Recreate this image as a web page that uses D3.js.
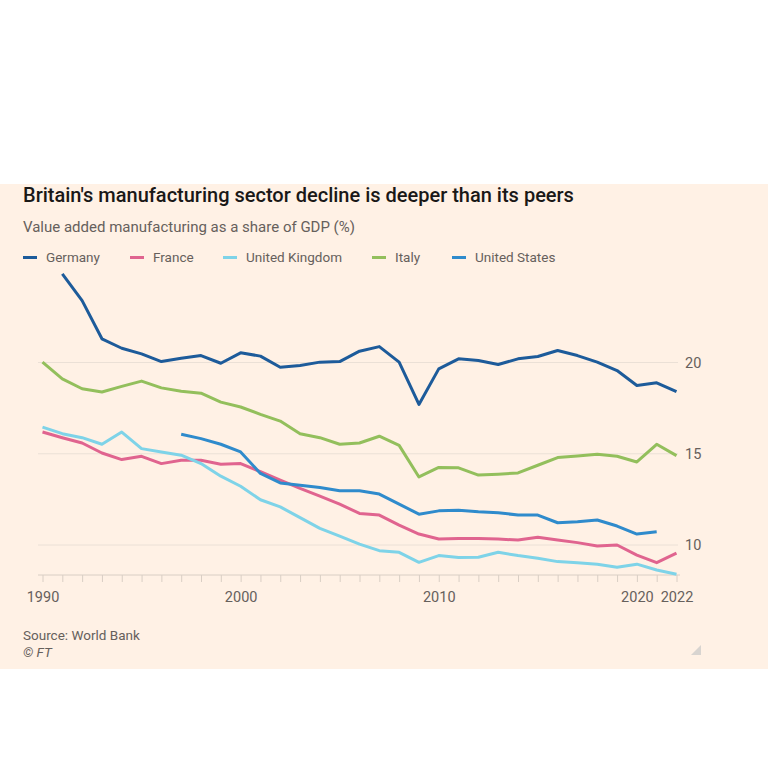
<!DOCTYPE html>
<html>
<head>
<meta charset="utf-8">
<script src="https://cdn.jsdelivr.net/npm/d3@7"></script>
<style>
  html, body { margin: 0; padding: 0; background: #ffffff; }
  svg { display: block; }
  text { font-family: Roboto, "Noto Sans", sans-serif; }
</style>
</head>
<body>
<svg id="chart" width="768" height="768"></svg>
<script>
const years = d3.range(1990, 2023);

const germany = [null, 24.86, 23.39, 21.3, 20.78, 20.47, 20.05, 20.23, 20.38, 19.96, 20.53,
  20.35, 19.74, 19.84, 20.02, 20.05, 20.62, 20.87, 20.02, 17.7, 19.65,
  20.2, 20.11, 19.89, 20.2, 20.33, 20.66, 20.38, 20.02, 19.56, 18.74,
  18.89, 18.4];
const france = [16.19, 15.88, 15.59, 15.04, 14.68, 14.86, 14.46, 14.64, 14.64, 14.43, 14.46,
  14.02, 13.55, 13.1, 12.68, 12.24, 11.73, 11.64, 11.09, 10.6, 10.33,
  10.36, 10.36, 10.33, 10.27, 10.42, 10.27, 10.13, 9.95, 10.0, 9.45,
  9.03, 9.55];
const uk = [16.46, 16.1, 15.88, 15.52, 16.19, 15.28, 15.1, 14.92, 14.46, 13.77, 13.22,
  12.48, 12.09, 11.5, 10.91, 10.49, 10.05, 9.69, 9.6, 9.05, 9.42,
  9.31, 9.33, 9.6, 9.42, 9.27, 9.09, 9.03, 8.95, 8.78, 8.95,
  8.63, 8.4];
const italy = [20.02, 19.1, 18.56, 18.38, 18.69, 18.98, 18.61, 18.42, 18.32, 17.83, 17.56,
  17.16, 16.79, 16.1, 15.88, 15.52, 15.59, 15.96, 15.46, 13.73, 14.25,
  14.23, 13.83, 13.88, 13.95, 14.37, 14.79, 14.88, 14.97, 14.86, 14.55,
  15.52, 14.9];
const unitedStates = [null, null, null, null, null, null, null, 16.07, 15.83, 15.52, 15.1,
  13.92, 13.4, 13.28, 13.15, 12.97, 12.97, 12.79, 12.24, 11.69, 11.87,
  11.91, 11.82, 11.77, 11.64, 11.64, 11.22, 11.28, 11.37, 11.04, 10.6,
  10.73, null];

const seriesNames = ["Germany", "France", "United Kingdom", "Italy", "United States"];
const seriesColors = ["#1d5b9a", "#e0648f", "#7ed3e8", "#93bf5c", "#2f8bcc"];
const seriesValues = [germany, france, uk, italy, unitedStates];
const yTicks = [10, 15, 20];
const xTickLabels = [1990, 2000, 2010, 2020, 2022];

const title = "Britain's manufacturing sector decline is deeper than its peers";
const subtitle = "Value added manufacturing as a share of GDP (%)";
const source = "Source: World Bank";
const credit = "© FT";

const svg = d3.select("#chart");

// background panel
svg.append("rect").attr("x", 0).attr("y", 184).attr("width", 768).attr("height", 485)
  .attr("fill", "#fff1e5");

const x = d3.scaleLinear().domain([1990, 2022]).range([42.5, 676.5]);
const y = d3.scaleLinear().domain([8.4, 25]).range([574.2, 271.25]);

// titles
svg.append("text").attr("x", 23).attr("y", 202).attr("font-size", 20)
  .attr("fill", "#1a1817").attr("font-weight", 500).text(title);
svg.append("text").attr("x", 23).attr("y", 232).attr("font-size", 15)
  .attr("fill", "#66605c").text(subtitle);

// legend
const legendX = [23, 130, 223, 372, 452];
const lg = svg.append("g");
seriesNames.forEach((n, i) => {
  lg.append("line").attr("x1", legendX[i]).attr("x2", legendX[i] + 14)
    .attr("y1", 257.5).attr("y2", 257.5)
    .attr("stroke", seriesColors[i]).attr("stroke-width", 3);
  lg.append("text").attr("x", legendX[i] + 23).attr("y", 262).attr("font-size", 13.5)
    .attr("fill", "#66605c").text(n);
});

// gridlines
svg.append("g").selectAll("line").data(yTicks).join("line")
  .attr("x1", 38).attr("x2", 678)
  .attr("y1", d => y(d)).attr("y2", d => y(d))
  .attr("stroke", "#ebe0d6").attr("stroke-width", 1);

// y labels on right
svg.append("g").selectAll("text").data(yTicks).join("text")
  .attr("x", 685).attr("y", d => y(d) + 5)
  .attr("font-size", 14.5).attr("fill", "#66605c").text(d => d);

// x axis
const xAxis = d3.axisBottom(x)
  .tickValues(years)
  .tickSize(7)
  .tickFormat(d => xTickLabels.includes(d) ? d : "");
const gx = svg.append("g").attr("transform", "translate(0,575)").call(xAxis);
gx.select(".domain").attr("d", "M38,0H680").attr("stroke", "#d9cec4");
gx.selectAll(".tick line").attr("stroke", "#d9cec4");
gx.selectAll(".tick text").attr("font-size", 14.5).attr("fill", "#66605c")
  .attr("font-family", "Roboto, sans-serif").attr("dy", "0.71em").attr("y", 17);

// lines
const line = d3.line()
  .defined(d => d.v !== null)
  .x(d => x(d.year))
  .y(d => y(d.v));

seriesValues.forEach((vals, i) => {
  const data = years.map((yr, j) => ({ year: yr, v: vals[j] }));
  svg.append("path").datum(data)
    .attr("fill", "none")
    .attr("stroke", seriesColors[i])
    .attr("stroke-width", 3)
    .attr("stroke-linejoin", "round")
    .attr("d", line);
});

// source
svg.append("text").attr("x", 23).attr("y", 640).attr("font-size", 13.5)
  .attr("fill", "#66605c").text(source);
svg.append("text").attr("x", 23).attr("y", 657).attr("font-size", 13.5)
  .attr("fill", "#66605c").attr("font-style", "italic").text(credit);

// resize glyph
svg.append("path").attr("d", "M701,645 L701,655 L691,655 Z").attr("fill", "#d8d4d0");
</script>
</body>
</html>
